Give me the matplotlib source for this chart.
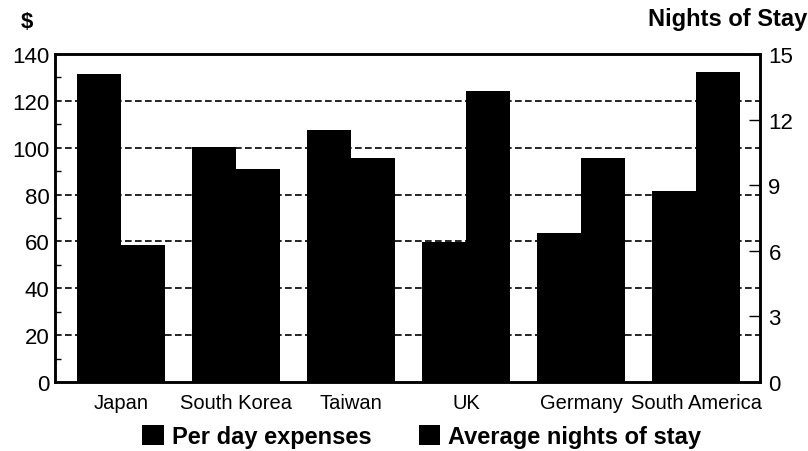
import numpy as np
import matplotlib
matplotlib.use('Agg')
import matplotlib.pyplot as plt
from matplotlib.patches import Patch

plt.rcParams['font.family'] = ['Liberation Sans', 'DejaVu Sans']

# data
regions = ['Japan', 'South Korea', 'Taiwan', 'UK', 'Germany', 'South America']
expenses = [131.5, 100.4, 107.4, 59.8, 63.8, 81.5]   # $ per day
nights = [6.25, 9.75, 10.25, 13.3, 10.25, 14.2]      # average nights

x = np.arange(len(regions))
w = 0.38

fig = plt.figure(figsize=(8.08, 4.52), dpi=100)
ax = fig.add_axes([0.068, 0.1527, 0.8727, 0.7256])
ax2 = ax.twinx()

# dashed gridlines under the bars
for v in range(20, 140, 20):
    ax.axhline(v, color='black', lw=1.2, ls=(0, (4, 2)), zorder=0)

ax.bar(x - w/2, expenses, w, color='black', zorder=2)
ax2.bar(x + w/2, nights, w, color='black', zorder=2)

ax.set_xlim(-0.574, 5.557)
ax.set_ylim(0, 140)
ax2.set_ylim(0, 15)
ax.set_yticks(range(0, 141, 20))
ax.set_yticks(range(10, 140, 20), minor=True)
ax2.set_yticks(range(0, 16, 3))

ax.set_xticks(x)
ax.set_xticklabels(regions, fontsize=14.5)
ax.tick_params(axis='x', length=0, pad=8)
ax.tick_params(axis='y', which='major', direction='in', length=0, labelsize=16, pad=4)
ax.tick_params(axis='y', which='minor', direction='in', length=4, width=1)
ax2.tick_params(axis='y', direction='in', length=8, width=1, labelsize=16, pad=6)

for a in (ax, ax2):
    for s in a.spines.values():
        s.set_linewidth(1.8)

fig.text(0.026, 0.951, '$', fontsize=16, fontweight='bold', ha='left', va='center')
fig.text(0.999, 0.957, 'Nights of Stay', fontsize=17, fontweight='bold', ha='right', va='center')

handles = [Patch(facecolor='black', label='Per day expenses'),
           Patch(facecolor='black', label='Average nights of stay')]
leg = fig.legend(handles=handles, loc='center', bbox_to_anchor=(0.522, 0.032), ncol=2,
                 frameon=False, handlelength=0.9, handleheight=0.9, handletextpad=0.35,
                 columnspacing=2.0, prop={'weight': 'bold', 'size': 17})

fig.savefig('out.png', dpi=100)
